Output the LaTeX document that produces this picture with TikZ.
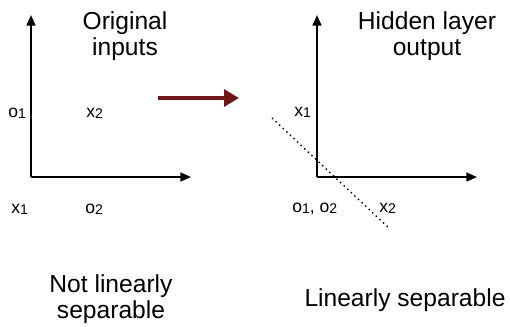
\documentclass[tikz,border=0pt]{standalone}
\usepackage{fontspec}
\setmainfont{Liberation Sans}
\usetikzlibrary{positioning,arrows.meta}
\definecolor{maroon}{RGB}{112,22,22}
\tikzset{
  axis/.style={line width=1.1pt, -{Triangle[length=6pt,width=5pt]}},
  lbl/.style={font=\fontsize{10}{12}\selectfont, inner sep=0pt, anchor=base west},
  ttl/.style={font=\fontsize{14}{14.5}\selectfont, align=center, inner sep=0pt},
}
\newcommand{\pt}[2]{#1\raisebox{-0.9pt}{\fontsize{8}{8}\selectfont #2}}

\begin{document}
\begin{tikzpicture}[x=0.02cm, y=-0.02cm]
        \useasboundingbox (0,0) rectangle (510,326);
        % original inputs
        \coordinate (oL) at (31,177);
        \coordinate (yL) at (31,15);
        \coordinate (xL) at (191,177);
        \draw[axis] (oL) -- (yL);
        \draw[axis] (oL) -- (xL);
        \node[ttl] (tL) at (125,36) {Original\\inputs};
        \node[lbl] (o1L) at (8,117) {\pt{o}{1}};
        \node[lbl] (x2L) at (86,117) {\pt{x}{2}};
        \node[lbl] (x1L) at (11,213) {\pt{x}{1}};
        \node[lbl] (o2L) at (85,213) {\pt{o}{2}};
        \node[ttl] (nL) at (111,299) {Not linearly\\separable};
        % map to hidden layer
        \coordinate (mA) at (158,98);
        \coordinate (mB) at (239,98);
        \draw[maroon, line width=2.5pt, -{Triangle[length=8.5pt,width=9.5pt]}] (mA) -- (mB);
        % hidden layer output
        \coordinate (oR) at (317,177);
        \coordinate (yR) at (317,15);
        \coordinate (xR) at (477,177);
        \draw[axis] (oR) -- (yR);
        \draw[axis] (oR) -- (xR);
        \node[ttl] (tR) at (427,36) {Hidden layer\\output};
        \node[lbl] (x1R) at (294,116) {\pt{x}{1}};
        \node[lbl] (oR12) at (292,212) {\pt{o}{1}, \pt{o}{2}};
        \node[lbl] (x2R) at (379,212) {\pt{x}{2}};
        \coordinate (sA) at (272,118);
        \coordinate (sB) at (390,229);
        \draw[dotted, line width=0.8pt] (sA) -- (sB);
        \node[ttl] (nR) at (405,300) {Linearly separable};
      \end{tikzpicture}
\end{document}
